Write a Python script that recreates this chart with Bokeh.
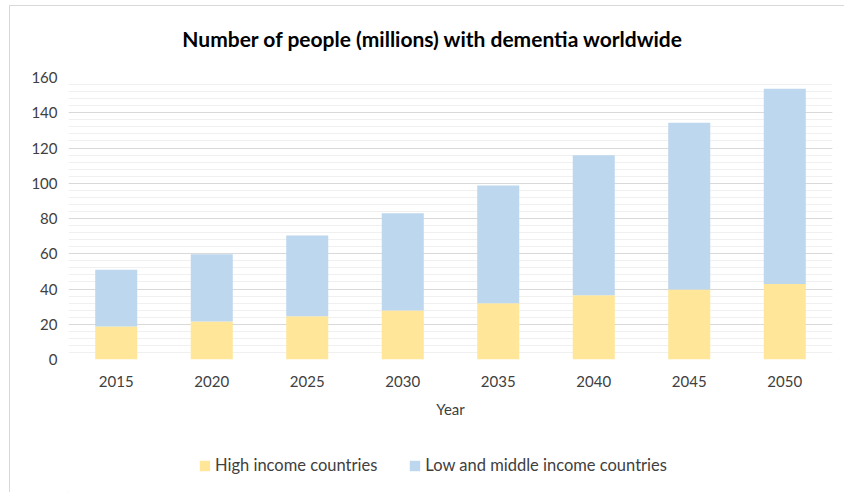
from bokeh.plotting import figure
from bokeh.layouts import column
from bokeh.models import ColumnDataSource, Range1d, SingleIntervalTicker, Legend, LegendItem, Label
from bokeh.embed import file_html
from bokeh.resources import INLINE

years = ["2015", "2020", "2025", "2030", "2035", "2040", "2045", "2050"]
high_income = [18.7, 21.6, 24.6, 27.8, 31.9, 36.5, 39.7, 42.9]
low_middle_income = [32.2, 38.1, 45.8, 55.2, 66.8, 79.4, 94.6, 110.7]
series_names = ["High income countries", "Low and middle income countries"]
colors = ["#FFE699", "#BDD7EE"]
y_ticks_interval = 20
title_text = "Number of people (millions) with dementia worldwide"

FONT = "Lato"
TEXT = "#404040"
W = 834


def strip(h):
    f = figure(width=W, height=h, x_range=Range1d(0, W), y_range=Range1d(0, h),
               output_backend="svg", toolbar_location=None,
               x_axis_type=None, y_axis_type=None,
               min_border_left=0, min_border_right=0, min_border_top=0, min_border_bottom=0)
    f.outline_line_color = None
    f.grid.visible = False
    return f


# title strip
TH = 50
pt = strip(TH)
pt.add_layout(Label(x=364.5, y=18, x_units="screen", y_units="screen", text=title_text,
                    text_align="center", text_baseline="middle",
                    text_font=FONT, text_font_size="21px", text_font_style="bold",
                    text_color="#000000"))

# main chart
source = ColumnDataSource(dict(year=years, high=high_income, low=low_middle_income))

p = figure(x_range=years, y_range=Range1d(0, 160), width=W, height=370,
           output_backend="svg", toolbar_location=None,
           min_border_left=58, min_border_right=12, min_border_top=21, min_border_bottom=67)
p.outline_line_color = None

r = p.vbar_stack(["high", "low"], x="year", width=0.44, source=source,
                 color=colors, line_color=None)

p.x_range.range_padding = 0
p.xgrid.grid_line_color = None
p.yaxis.ticker = SingleIntervalTicker(interval=y_ticks_interval, num_minor_ticks=5)
p.ygrid.grid_line_color = "#d9d9d9"
p.ygrid.minor_grid_line_color = "#f0f0f0"
p.ygrid.grid_line_width = 1

for ax in (p.xaxis, p.yaxis):
    ax.axis_line_color = None
    ax.major_tick_line_color = None
    ax.minor_tick_line_color = None
    ax.major_label_text_font = FONT
    ax.major_label_text_font_size = "15px"
    ax.major_label_text_color = TEXT
p.yaxis.major_label_standoff = 5
p.xaxis.major_label_standoff = 10
p.xaxis.axis_label = "Year"
p.xaxis.axis_label_text_font = FONT
p.xaxis.axis_label_text_font_size = "15px"
p.xaxis.axis_label_text_font_style = "normal"
p.xaxis.axis_label_text_color = TEXT
p.xaxis.axis_label_standoff = 10

# legend strip below the chart
LH = 66
pl = strip(LH)
dummies = [pl.vbar(x=[-100], top=[1], width=1, color=colors[i], line_color=None) for i in range(2)]

legend = Legend(items=[LegendItem(label=series_names[i], renderers=[dummies[i]]) for i in range(2)],
                orientation="horizontal", location=(130, 17), margin=0, padding=5,
                label_text_font=FONT, label_text_font_size="16.5px", label_text_color=TEXT,
                glyph_width=13, glyph_height=13, spacing=31, label_standoff=4,
                border_line_color=None, background_fill_alpha=0)
pl.add_layout(legend, "center")

layout = column(pt, p, pl, spacing=0)
layout.styles = {"border-left": "1px solid #d9d9d9", "border-top": "1px solid #d9d9d9",
                 "margin-left": "9px", "margin-top": "5px"}

open("out.html", "w").write(file_html(layout, INLINE))
